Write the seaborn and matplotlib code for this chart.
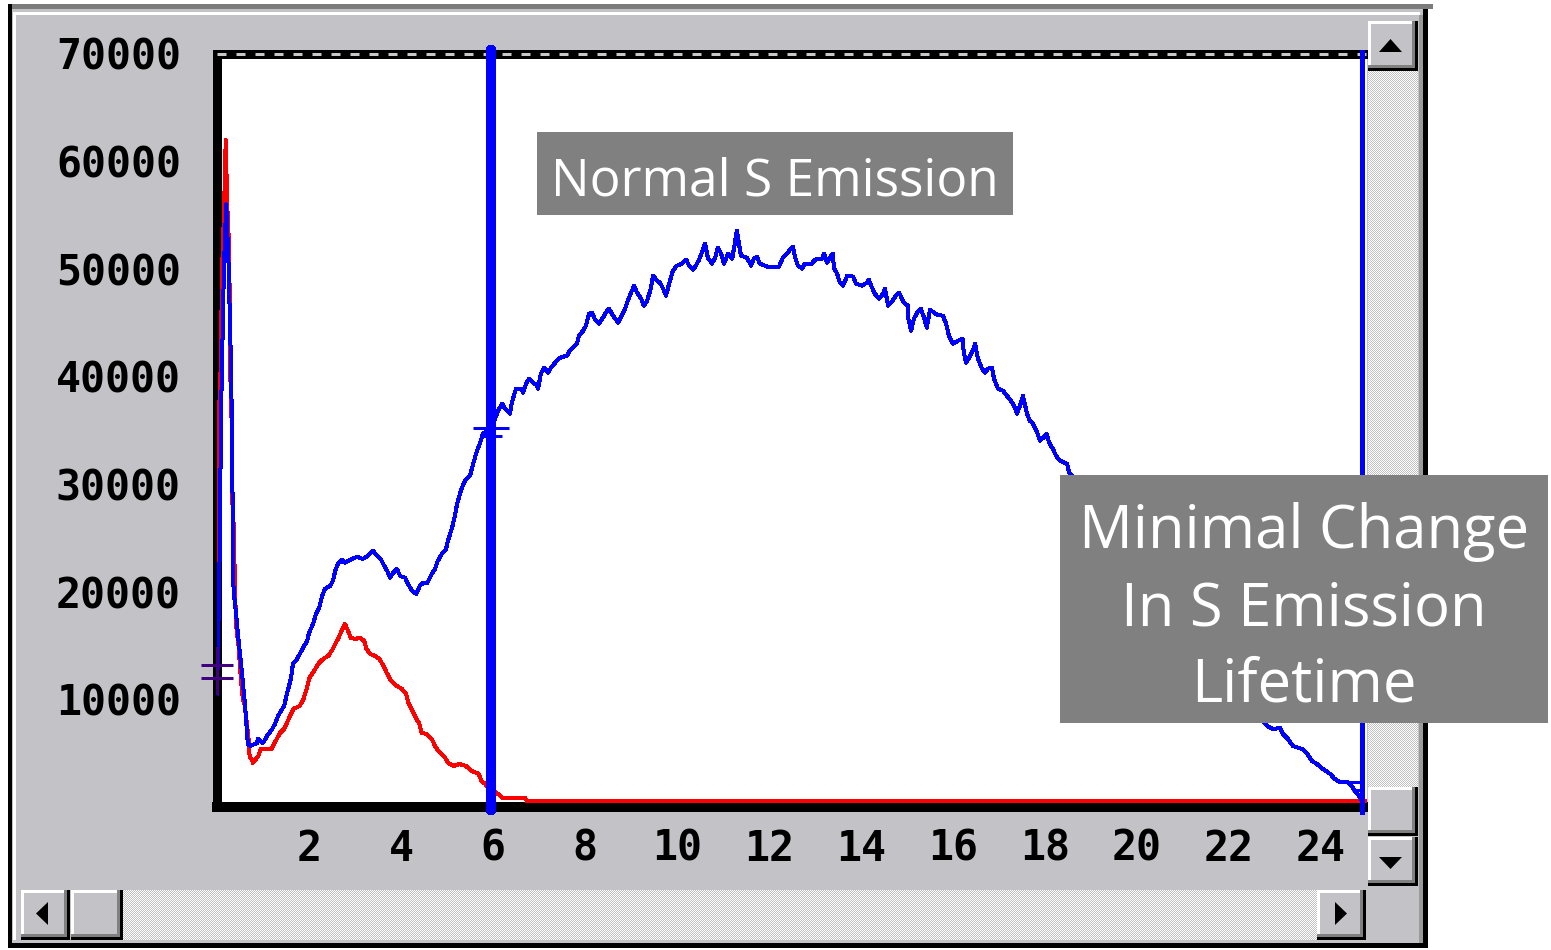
import numpy as np
import pandas as pd
import matplotlib
matplotlib.use("Agg")
import matplotlib.pyplot as plt
import seaborn as sns
from matplotlib.patches import Rectangle, Polygon
from matplotlib.colors import ListedColormap

sns.set_theme(style="white")
plt.rcParams['font.family'] = ['DejaVu Sans']
plt.rcParams['lines.scale_dashes'] = False

# ---------------- data ----------------
red_x = [0.00, 0.02, 0.05, 0.08, 0.11, 0.15, 0.19, 0.22, 0.25, 0.27, 0.28, 0.31,
         0.33, 0.37, 0.39, 0.43, 0.46, 0.52, 0.56, 0.60, 0.66, 0.68, 0.71, 0.75,
         0.78, 0.90, 0.95, 1.19, 1.24, 1.31, 1.37, 1.46, 1.52, 1.59,
         1.66, 1.80, 1.88, 1.95, 2.01, 2.08, 2.15, 2.22, 2.31, 2.42,
         2.52, 2.57, 2.64, 2.71, 2.78, 2.85, 2.91, 3.00, 3.11, 3.20,
         3.25, 3.33, 3.43, 3.53, 3.62, 3.69, 3.76, 3.83, 3.91, 4.02,
         4.11, 4.16, 4.23, 4.30, 4.40, 4.45, 4.56, 4.67, 4.74, 4.81,
         4.88, 4.96, 5.03, 5.14, 5.27, 5.41, 5.54, 5.69, 5.75, 5.83,
         5.90, 6.11, 6.20, 6.70, 6.74, 24.96]
red_y = [21500, 23400, 37300, 40800, 49800, 54900, 62000, 56100, 53300, 50600, 40200, 38800,
         28700, 25500, 19900, 16000, 15500, 11800, 10100, 9500, 7300, 6700, 4600, 4500,
         4090, 4740, 5390, 5390, 5860, 6410, 6880, 7250, 7810, 8460,
         9110, 9390, 10040, 10970, 11990, 12460, 12920, 13390, 13760, 14040,
         14690, 15150, 15710, 16360, 17010, 16360, 15710, 15620, 15710, 15430,
         14690, 14220, 14040, 13760, 13110, 12460, 11900, 11530, 11250, 10970,
         10500, 9670, 9110, 8460, 7720, 6880, 6790, 6320, 5670, 5210,
         4930, 4560, 4090, 3810, 4000, 3810, 3350, 3070, 2420, 2140,
         1770, 1210, 840, 840, 550, 550]

blue_x = [0.00, 0.05, 0.09, 0.15, 0.20, 0.25, 0.31, 0.36, 0.39, 0.47, 0.54, 0.61, 0.67,
          0.72, 0.87, 0.89, 1.00, 1.09, 1.20, 1.26, 1.33, 1.39, 1.46,
          1.52, 1.61, 1.65, 1.74, 1.80, 1.87, 1.96, 2.00, 2.09, 2.15,
          2.22, 2.30, 2.35, 2.46, 2.52, 2.57, 2.63, 2.72, 2.78, 2.89,
          3.04, 3.17, 3.28, 3.39, 3.48, 3.57, 3.61, 3.70, 3.76, 3.83,
          3.91, 3.98, 4.09, 4.15, 4.24, 4.33, 4.41, 4.48, 4.57, 4.67,
          4.74, 4.80, 4.89, 4.98, 5.02, 5.11, 5.17, 5.22, 5.30, 5.39,
          5.50, 5.57, 5.65, 5.72, 5.78, 5.89, 5.96,
          6.11, 6.20, 6.26, 6.37, 6.41, 6.50, 6.63, 6.65, 6.72, 6.78,
          6.87, 6.96, 6.98, 7.04, 7.11, 7.20, 7.26, 7.35, 7.46, 7.61,
          7.67, 7.74, 7.83, 7.87, 7.96, 8.02, 8.09, 8.15, 8.22, 8.30,
          8.39, 8.48, 8.52, 8.61, 8.72, 8.80, 8.87, 8.93, 9.02, 9.07,
          9.13, 9.22, 9.28, 9.35, 9.43, 9.48, 9.57, 9.63, 9.70, 9.76,
          9.83, 9.91, 10.00, 10.11, 10.20, 10.26, 10.35, 10.41, 10.48, 10.54,
          10.61, 10.67, 10.76, 10.83, 10.89, 10.96, 11.02, 11.11, 11.20, 11.26,
          11.30, 11.39, 11.52, 11.61, 11.67, 11.74, 11.80, 11.96,
          12.22, 12.30, 12.39, 12.46, 12.52, 12.57, 12.63, 12.72, 12.78, 12.93,
          13.00, 13.15, 13.20, 13.26, 13.35, 13.39, 13.41, 13.48, 13.54, 13.61,
          13.70, 13.83, 13.89, 14.02, 14.13, 14.17, 14.24, 14.30, 14.39, 14.48,
          14.52, 14.59, 14.67, 14.76, 14.83, 14.89, 14.93, 15.02, 15.03, 15.09,
          15.15, 15.22, 15.30, 15.37, 15.43, 15.50, 15.65, 15.78, 15.85, 15.91,
          16.00, 16.11, 16.21, 16.23, 16.28, 16.35, 16.43, 16.48, 16.54, 16.63,
          16.70, 16.76, 16.85, 16.89, 16.98, 17.09, 17.17, 17.26, 17.35, 17.39,
          17.48, 17.52, 17.61, 17.67, 17.74, 17.83, 17.89, 17.96, 18.04, 18.09,
          18.17, 18.24, 18.33, 18.48, 18.52,
          18.8, 19.2, 19.6, 20.0, 20.4, 20.8, 21.2, 21.6, 22.0, 22.4,
          22.83, 22.96, 23.11, 23.17, 23.28, 23.39, 23.59, 23.70, 23.80, 23.91,
          24.04, 24.20, 24.30, 24.41, 24.57, 24.67, 24.74, 24.80, 24.89]
blue_y = [10500, 21000, 37000, 50000, 56000, 50600, 40000, 20000, 19000, 15400, 12600, 9400, 5860,
          5670, 5950, 6320, 5950, 6600, 7250, 7720, 8460, 8920, 9390,
          10500, 11990, 13290, 13760, 14220, 14780, 15430, 16180, 17010, 17940,
          18500, 19800, 20270, 20540, 21010, 21940, 22590, 22960, 22680, 22960,
          23240, 23050, 23330, 23800, 23330, 22960, 22590, 21940, 21290, 21750,
          22120, 21470, 21290, 20730, 20080, 19800, 20540, 20820, 20820, 21660,
          22120, 22870, 23520, 23980, 24730, 25940, 27050, 28170, 29380, 30300,
          30770, 31890, 33090, 33840, 34670, 34950, 35100,
          36810, 37460, 37000, 36530, 37560, 38860, 38860, 38490, 39320, 39790,
          39420, 39140, 38860, 40250, 40810, 40340, 40810, 41270, 41740, 41930,
          42390, 42670, 43130, 43790, 44250, 44710, 45830, 45920, 45270, 44900,
          45460, 46110, 46290, 45640, 44990, 45640, 46290, 47040, 47970, 48430,
          47780, 47220, 46570, 47040, 48150, 49360, 48900, 48710, 48150, 47500,
          48620, 49830, 50290, 50480, 50850, 50290, 49920, 50290, 50850, 51500,
          52340, 51040, 50480, 51040, 51970, 51410, 50480, 51410, 50940, 52430,
          53550, 51220, 51040, 50290, 50940, 51130, 50480, 50200,
          50200, 51040, 51410, 51780, 52060, 51040, 50290, 50010, 50480, 50480,
          50850, 50940, 51410, 50570, 51220, 51410, 50110, 49550, 48710, 48430,
          49360, 49270, 48620, 48430, 48710, 48990, 48250, 47690, 47220, 47690,
          48150, 46570, 46940, 47500, 47780, 47220, 46850, 46570, 45360, 44250,
          45360, 45920, 46290, 45460, 44530, 46200, 45740, 45640, 44900, 43790,
          43040, 43320, 43510, 42390, 41270, 41740, 42390, 43040, 41650, 40720,
          40340, 40720, 40810, 39790, 38860, 38670, 38210, 37740, 37090, 36530,
          37560, 38210, 36530, 35880, 35600, 34770, 34020, 34300, 34670, 33840,
          33280, 32630, 32160, 31890, 31140,
          29600, 27100, 24500, 22200, 19700, 17400, 15100, 13100, 11200, 9600,
          7530, 7250, 7340, 6790, 6320, 5670, 5390, 4930, 4280, 4000,
          3530, 3070, 2600, 2320, 2320, 1950, 1490, 1210, 560]

cursor_x = [5.96, 24.89]
cursor_mark_red = [0.0, 13190, 11980]     # x, upper bar, lower bar
cursor_mark_blue = [5.96, 35200, 34500]
cursor_mark_end = [24.89, 2300, 1600]

x_ticks = [2, 4, 6, 8, 10, 12, 14, 16, 18, 20, 22, 24]
x_labels = [str(v) for v in x_ticks]
y_ticks = [10000, 20000, 30000, 40000, 50000, 60000, 70000]
y_labels = [str(v) for v in y_ticks]

note_1 = "Normal S Emission"
note_2 = ["Minimal Change", "In S Emission", "Lifetime"]

assert len(red_x) == len(red_y)
assert len(blue_x) == len(blue_y)

# ---------------- figure ----------------
W, H = 1551, 950
PX = 72 / 100.0
fig = plt.figure(figsize=(W / 100, H / 100), dpi=100)
fig.patch.set_facecolor('white')

GRAY = '#c3c2c6'

# background window
ax_bg = fig.add_axes([0, 0, 1, 1])
ax_bg.set_zorder(0)
ax_bg.set_xlim(0, W)
ax_bg.set_ylim(H, 0)
ax_bg.axis('off')
ax_bg.add_patch(Rectangle((8, 4), 1420, 944, fc=GRAY, ec='none'))
ax_bg.add_patch(Rectangle((8, 4), 1425, 5, fc='#7c7c7c', ec='none'))
ax_bg.add_patch(Rectangle((13, 12), 1407, 3, fc='white', ec='none'))
ax_bg.add_patch(Rectangle((13, 12), 3, 928, fc='white', ec='none'))
ax_bg.add_patch(Rectangle((8, 4), 4, 944, fc='black', ec='none'))
ax_bg.add_patch(Rectangle((1423, 9), 5, 939, fc='black', ec='none'))
ax_bg.add_patch(Rectangle((8, 943), 1420, 5, fc='black', ec='none'))
ax_bg.add_patch(Rectangle((1419, 15), 4, 928, fc='#9a9a9a', ec='none'))

# main plot axes
ax = fig.add_axes([217 / W, 1 - 807 / H, 1150 / W, (807 - 53.5) / H])
ax.set_zorder(1)
ax.set_facecolor('white')

df_red = pd.DataFrame({'t': red_x, 'v': red_y})
df_blue = pd.DataFrame({'t': blue_x, 'v': blue_y})
sns.lineplot(data=df_red, x='t', y='v', ax=ax, color='#ff0000', lw=3 * PX,
             sort=False, estimator=None, zorder=2, antialiased=False)
sns.lineplot(data=df_blue, x='t', y='v', ax=ax, color='#0000ff', lw=3 * PX,
             sort=False, estimator=None, zorder=2.2, antialiased=False)

ax.set_xlim(0, 25)
ax.set_ylim(0, 70000)
ax.set_xlabel('')
ax.set_ylabel('')

# cursors
ax.axvline(cursor_x[0], ymin=-0.004, ymax=1.0046, color='#0000ff', lw=10 * PX,
           clip_on=False, zorder=3, antialiased=False)
ax.axvline(cursor_x[1], ymin=-0.007, ymax=1.002, color='#0000ff', lw=5 * PX,
           clip_on=False, zorder=3, antialiased=False)

# cursor markers
px_, a, b = cursor_mark_red
ax.plot([px_, px_], [10600, 14800], color='#400080', lw=3 * PX, clip_on=False, zorder=4,
        antialiased=False)
ax.plot([px_, px_], [a, b], ls='none', marker='_', ms=32 * PX, mew=3 * PX,
        color='#400080', clip_on=False, zorder=4)
px_, a, b = cursor_mark_blue
ax.plot([px_], [a], ls='none', marker='_', ms=36 * PX, mew=3 * PX, color='#0000ff',
        clip_on=False, zorder=4)
ax.plot([px_], [b], ls='none', marker='_', ms=22 * PX, mew=3 * PX, color='#0000ff',
        clip_on=False, zorder=4)
px_, a, b = cursor_mark_end
ax.plot([px_ - 0.2], [a], ls='none', marker='_', ms=22 * PX, mew=3 * PX, color='#0000ff',
        clip_on=False, zorder=4)
ax.plot([px_ - 0.1], [b], ls='none', marker='_', ms=10 * PX, mew=3 * PX, color='#0000ff',
        clip_on=False, zorder=4)

# frame
for side in ['left', 'bottom', 'top']:
    ax.spines[side].set_visible(True)
    ax.spines[side].set_color('black')
    ax.spines[side].set_zorder(1)
ax.spines['left'].set_linewidth(9 * PX)
ax.spines['bottom'].set_linewidth(10 * PX)
ax.spines['top'].set_linewidth(9 * PX)
ax.spines['right'].set_visible(False)
ax.axhline(70000, color='#c8c8c8', lw=3 * PX, dashes=(9 * PX, 10 * PX),
           clip_on=False, zorder=1.2)

ax.set_xticks(x_ticks)
ax.set_xticklabels(x_labels)
ax.set_yticks(y_ticks)
ax.set_yticklabels(y_labels)
ax.tick_params(axis='x', direction='in', length=4 * PX, width=3 * PX, color='#c8c8c8',
               pad=15, bottom=True)
ax.tick_params(axis='y', length=0, pad=26, left=True)
for lab in ax.get_xticklabels() + ax.get_yticklabels():
    lab.set_fontfamily('DejaVu Sans Mono')
    lab.set_fontweight('bold')
    lab.set_fontsize(30)
    lab.set_color('black')
ax.grid(False)

# overlay: scrollbars and notes
ax_ov = fig.add_axes([0, 0, 1, 1])
ax_ov.set_zorder(2)
ax_ov.patch.set_visible(False)
ax_ov.axis('off')

checker_cmap = ListedColormap(['#ffffff', '#c0c0c0'])


def checker(x0, y0, x1, y1):
    w, h = int(x1 - x0), int(y1 - y0)
    yy, xx = np.indices((h, w))
    pat = ((xx + yy) % 2).astype(float)
    ax_ov.imshow(pat, cmap=checker_cmap, extent=(x0, x1, y1, y0),
                 interpolation='nearest', aspect='auto', zorder=1)


def button(x0, y0, x1, y1, tri=None):
    ax_ov.add_patch(Rectangle((x0, y0), x1 - x0, y1 - y0, fc=GRAY, ec='none', zorder=2))
    ax_ov.add_patch(Rectangle((x0, y0), x1 - x0, 3, fc='white', ec='none', zorder=2))
    ax_ov.add_patch(Rectangle((x0, y0), 3, y1 - y0, fc='white', ec='none', zorder=2))
    ax_ov.add_patch(Rectangle((x0, y1 - 6), x1 - x0, 3, fc='#808080', ec='none', zorder=2))
    ax_ov.add_patch(Rectangle((x1 - 6, y0), 3, y1 - y0, fc='#808080', ec='none', zorder=2))
    ax_ov.add_patch(Rectangle((x0, y1 - 3), x1 - x0, 3, fc='black', ec='none', zorder=2))
    ax_ov.add_patch(Rectangle((x1 - 3, y0), 3, y1 - y0, fc='black', ec='none', zorder=2))
    if tri is not None:
        ax_ov.add_patch(Polygon(tri, closed=True, fc='black', ec='none', zorder=3))


# vertical scrollbar
checker(1368, 71, 1418, 788)
button(1368, 21, 1418, 71, [(1379, 52), (1402, 52), (1390.5, 39)])
button(1368, 787, 1418, 836)
button(1368, 837, 1418, 886, [(1379, 857), (1402, 857), (1390.5, 869)])
# horizontal scrollbar
checker(122, 890, 1318, 940)
button(21, 890, 70, 940, [(48, 902), (48, 925), (36, 913.5)])
button(71, 890, 123, 940)
button(1317, 890, 1366, 940, [(1335, 902), (1335, 925), (1347, 913.5)])

# notes
ax_ov.add_patch(Rectangle((537, 132), 476, 83, fc='#808080', ec='none', zorder=5))
ax_ov.text(775, 195, note_1, color='white', fontsize=37, family=['Open Sans', 'DejaVu Sans'],
           ha='center', va='baseline', zorder=6)
ax_ov.add_patch(Rectangle((1060, 475), 488, 248, fc='#808080', ec='none', zorder=5))
for line, base in zip(note_2, [548, 626, 702]):
    ax_ov.text(1304, base, line, color='white', fontsize=43,
               family=['Open Sans', 'DejaVu Sans'], ha='center', va='baseline', zorder=6)

ax_ov.set_xlim(0, W)
ax_ov.set_ylim(H, 0)

fig.savefig('out.png', dpi=100, facecolor='white')
